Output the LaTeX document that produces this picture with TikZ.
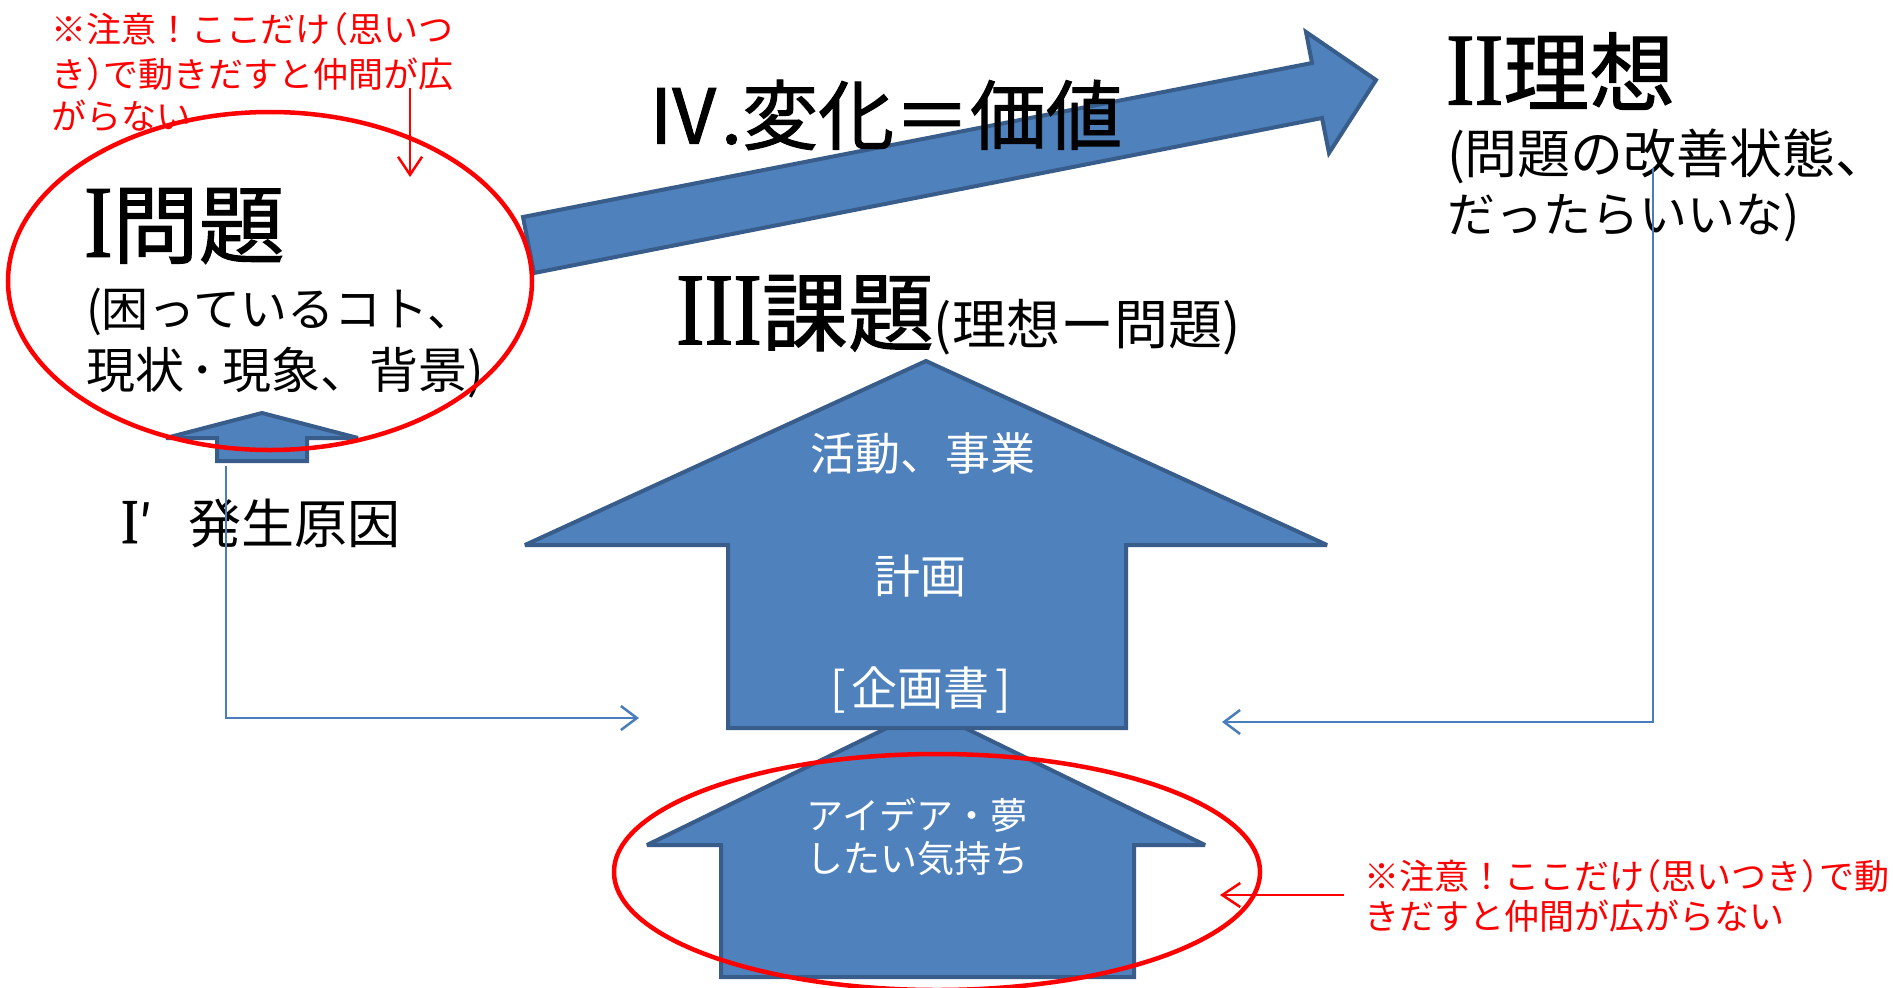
\documentclass[tikz,border=0pt]{standalone}
\usepackage{fontspec}
\usepackage{graphicx}
\usetikzlibrary{arrows.meta}
\newfontfamily\jp{Noto Sans CJK JP}
\newfontfamily\jpb{Noto Sans CJK JP}[FakeBold=1.2]
\newfontfamily\rnfont{Liberation Serif}[FakeBold=1.2]
\newcommand\fsz[1]{\fontsize{#1}{#1}\selectfont}
\newcommand\rnum[2]{{\rnfont\fsz{#1}\scalebox{1}[1.2]{#2}}}
\newcommand\lp{\makebox[0.5em][r]{（}}
\newcommand\rp{\makebox[0.5em][l]{）}}
\definecolor{bfill}{HTML}{4F81BD}
\definecolor{bline}{HTML}{385D8A}
\definecolor{cline}{HTML}{4A7EBB}
\definecolor{alert}{HTML}{FF0000}
\begin{document}
\begin{tikzpicture}[x=1pt,y=-1pt,
  txt/.style={inner sep=0pt,outer sep=0pt,anchor=west},
  ctxt/.style={inner sep=0pt,outer sep=0pt,anchor=center,text=white},
  redtxt/.style={txt,text=alert},
  blk/.style={fill=bfill,draw=bline,line width=4pt,line join=miter,miter limit=4},
  conn/.style={draw=cline,line width=2.5pt,-{Straight Barb[length=16pt,width=24pt]}},
  redarr/.style={draw=alert,line width=2.5pt,-{Straight Barb[length=18pt,width=24pt]}},
  ring/.style={draw=alert,line width=4.5pt}
]
\useasboundingbox (0,0) rectangle (1893,988);
\clip (0,0) rectangle (1893,988);
\fill[white] (0,0) rectangle (1893,988);

% small up arrow (cause)
\path[blk] (262,413) -- (358,438) -- (307,438) -- (307,461) -- (217,461) -- (217,438) -- (166,438) -- cycle;

% diagonal arrow (value)
\path[blk] (523,217) -- (1312,63) -- (1306,32) -- (1376,80) -- (1329,153) -- (1322,118) -- (534,273) -- cycle;

% bottom arrow (idea)
\path[blk] (926,709) -- (1205,845) -- (1134,845) -- (1134,977) -- (721,977) -- (721,845) -- (647,845) -- cycle;

% big up arrow (task)
\path[blk] (926,361) -- (1327,545) -- (1126,545) -- (1126,728) -- (728,728) -- (728,545) -- (525,545) -- cycle;

% texts
\node[redtxt,font=\jp\fsz{35}] (warnA1) at (51,29) {※注意！ここだけ\lp 思いつ};
\node[redtxt,font=\jp\fsz{35}] (warnA2) at (51,74) {き\rp で動きだすと仲間が広};
\node[redtxt,font=\jp\fsz{35}] (warnA3) at (51,116) {がらない};

\node[txt,font=\jpb\fsz{86}] (prob) at (84,226) {\rnum{86}{I}問題};
\node[txt,font=\jp\fsz{47}] (prob2) at (86,312) {(困っているコト、};
\node[txt,font=\jp\fsz{49}] (prob3) at (86,373) {現状\hspace{7pt}･\hspace{7pt}現象、背景)};

\node[txt,font=\jp\fsz{53}] (cause) at (121,523) {\rnum{53}{I}\makebox[50pt][l]{′}発生原因};

\node[txt,font=\jpb\fsz{76}] (value) at (645,115) {Ⅳ.変化＝価値};

\node[txt,font=\jpb\fsz{86}] (task) at (676,315) {\rnum{86}{III}課題{\jp\fsz{54}(理想ー問題)}};

\node[txt,font=\jpb\fsz{86}] (ideal) at (1446,71) {\rnum{86}{II}理想};
\node[txt,font=\jp\fsz{53}] (ideal2) at (1447,156) {(問題の改善状態、};
\node[txt,font=\jp\fsz{48}] (ideal3) at (1447,218) {だったらいいな)};

\node[ctxt,font=\jp\fsz{45}] (act) at (923,453) {活動、事業};
\node[ctxt,font=\jp\fsz{46}] (plan) at (920,576) {計画};
\node[ctxt,font=\jp\fsz{46}] (doc) at (921,690) {[\hspace{6pt}企画書\hspace{6pt}]};
\node[ctxt,font=\jp\fsz{37}] (idea1) at (917,815) {アイデア・夢};
\node[ctxt,font=\jp\fsz{37}] (idea2) at (917,859) {したい気持ち};

\node[redtxt,font=\jp\fsz{35}] (warnB1) at (1364,876) {※注意！ここだけ\lp 思いつき\rp で動};
\node[redtxt,font=\jp\fsz{35}] (warnB2) at (1364,916) {きだすと仲間が広がらない};

% connectors
\coordinate (lA) at (226,466);
\coordinate (lB) at (639,718);
\coordinate (rA) at (1653,168);
\coordinate (rB) at (1222,722);
\draw[conn] (lA) |- (lB);
\draw[conn] (rA) |- (rB);

% red annotations
\draw[ring] (270,281) ellipse [x radius=262pt, y radius=169pt];
\draw[ring] (937,872) ellipse [x radius=323pt, y radius=118pt];
\coordinate (tA) at (410,88);
\coordinate (tB) at (410,177);
\draw[redarr] (tA) -- (tB);
\coordinate (bA) at (1344,895);
\coordinate (bB) at (1220,895);
\draw[redarr] (bA) -- (bB);
\end{tikzpicture}
\end{document}
